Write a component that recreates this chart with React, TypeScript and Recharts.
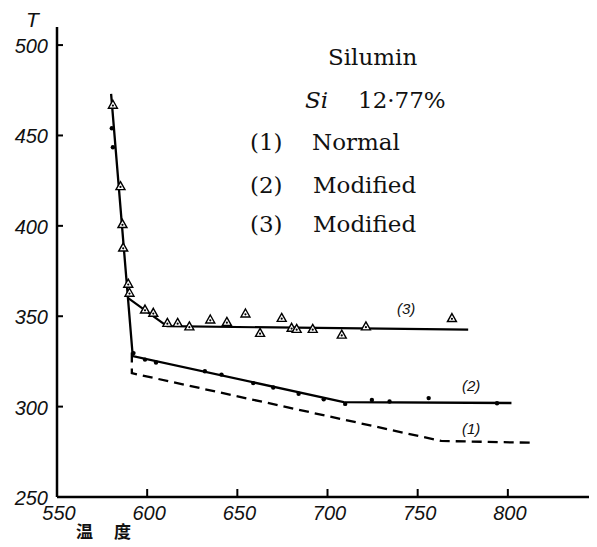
import React from 'react';
import { ComposedChart, Line, Scatter, XAxis, YAxis } from 'recharts';

// temperature (x) vs T (y)
const xTicks = [550, 600, 650, 700, 750, 800];
const yTicks = [250, 300, 350, 400, 450, 500];

// (2) Modified, solid line incl. the steep part
const line2 = [
  { x: 580, y: 473 },
  { x: 592, y: 328 },
  { x: 709, y: 302.5 },
  { x: 802, y: 302 },
];

// (3) Modified, branches off the steep line
const line3 = [
  { x: 589.5, y: 360 },
  { x: 611, y: 344.5 },
  { x: 778, y: 342.6 },
];

// (1) Normal, dashed
const line1 = [
  { x: 591.5, y: 330 },
  { x: 591.5, y: 318.5 },
  { x: 763, y: 281 },
  { x: 814, y: 280 },
];

const triPoints = [
  { x: 581, y: 467 },
  { x: 585.2, y: 422 },
  { x: 586.3, y: 401 },
  { x: 586.7, y: 388 },
  { x: 589.5, y: 368 },
  { x: 590.2, y: 363 },
  { x: 598.8, y: 353.7 },
  { x: 603.4, y: 351.9 },
  { x: 611.2, y: 346.3 },
  { x: 616.9, y: 346.3 },
  { x: 623.4, y: 344.4 },
  { x: 635, y: 348.2 },
  { x: 644.2, y: 346.9 },
  { x: 654.5, y: 351.5 },
  { x: 662.6, y: 340.8 },
  { x: 674.6, y: 349.1 },
  { x: 680.1, y: 343.6 },
  { x: 682.9, y: 343 },
  { x: 691.8, y: 343 },
  { x: 707.9, y: 339.8 },
  { x: 721.3, y: 344.4 },
  { x: 769, y: 349 },
];

const dotPoints = [
  { x: 580.4, y: 454 },
  { x: 581, y: 443.5 },
  { x: 592.4, y: 329.6 },
  { x: 598.8, y: 326 },
  { x: 604.9, y: 324.4 },
  { x: 632, y: 319.6 },
  { x: 641.2, y: 317.7 },
  { x: 658.8, y: 313 },
  { x: 669.9, y: 310.6 },
  { x: 684, y: 307.1 },
  { x: 697.9, y: 304.1 },
  { x: 709.8, y: 301.5 },
  { x: 724.6, y: 303.7 },
  { x: 734.4, y: 302.8 },
  { x: 756.1, y: 304.7 },
  { x: 794, y: 301.9 },
];

const W = 589;
const H = 539;
const AX_X = 49; // y axis position in svg
const AX_Y = 489; // x axis position in svg

const tickFont = 'Liberation Sans, Arial, sans-serif';
const serif = 'DejaVu Serif, Liberation Serif, serif';
const italic = { fontStyle: 'italic' as const };

const YTick = (props: any) => {
  const { y, payload } = props;
  return (
    <g>
      <line x1={AX_X} x2={AX_X + 6} y1={y} y2={y} stroke="#000" strokeWidth={2} />
      <text x={AX_X - 9} y={y + 8} textAnchor="end" style={italic} fontSize={20} fontFamily={tickFont} fill="#111">
        {payload.value}
      </text>
    </g>
  );
};

const XTick = (props: any) => {
  const { x, payload } = props;
  return (
    <g>
      {payload.value !== 550 && (
        <line x1={x} x2={x} y1={AX_Y} y2={AX_Y - 8} stroke="#000" strokeWidth={2} />
      )}
      <text x={x + 2} y={AX_Y + 23} textAnchor="middle" style={italic} fontSize={20} fontFamily={tickFont} fill="#111">
        {payload.value}
      </text>
    </g>
  );
};

const Triangle = (props: any) => {
  const { cx, cy } = props;
  if (cx == null || cy == null) return null;
  return (
    <g>
      <polygon
        points={`${cx},${cy - 4.5} ${cx + 4.5},${cy + 3.5} ${cx - 4.5},${cy + 3.5}`}
        fill="#fff"
        stroke="#000"
        strokeWidth={1.4}
      />
      <circle cx={cx} cy={cy + 0.8} r={1.1} fill="#000" />
    </g>
  );
};

const Dot = (props: any) => {
  const { cx, cy } = props;
  if (cx == null || cy == null) return null;
  return <circle cx={cx} cy={cy} r={2.2} fill="#000" />;
};

export default function App() {
  return (
    <div style={{ position: 'relative', width: W, height: H, background: '#fff' }}>
      <ComposedChart width={W} height={H} margin={{ top: 19, right: 8, bottom: 20, left: 0 }}>
        <XAxis
          type="number"
          dataKey="x"
          domain={[550, 845]}
          ticks={xTicks}
          allowDataOverflow
          height={30}
          axisLine={{ stroke: '#000', strokeWidth: 2.5 }}
          tickLine={false}
          tick={<XTick />}
          interval={0}
        />
        <YAxis
          type="number"
          dataKey="y"
          domain={[250, 510]}
          ticks={yTicks}
          allowDataOverflow
          width={49}
          axisLine={{ stroke: '#000', strokeWidth: 2.5 }}
          tickLine={false}
          tick={<YTick />}
          interval={0}
        />
        <Line data={line2} dataKey="y" type="linear" stroke="#000" strokeWidth={2.3} dot={false} isAnimationActive={false} />
        <Line data={line3} dataKey="y" type="linear" stroke="#000" strokeWidth={2.1} dot={false} isAnimationActive={false} />
        <Line
          data={line1}
          dataKey="y"
          type="linear"
          stroke="#000"
          strokeWidth={2.3}
          strokeDasharray="10 6"
          dot={false}
          isAnimationActive={false}
        />
        <Scatter data={dotPoints} shape={<Dot />} isAnimationActive={false} />
        <Scatter data={triPoints} shape={<Triangle />} isAnimationActive={false} />
      </ComposedChart>
      <svg
        width={W}
        height={H}
        style={{ position: 'absolute', left: 0, top: 0, pointerEvents: 'none' }}
      >
        <text x={18} y={19} fontSize={21} style={italic} fontFamily={tickFont} fill="#111">T</text>
        <g fontFamily={serif} fontSize={23} fill="#111">
          <text x={320} y={57}>Silumin</text>
          <text x={297} y={100} style={italic}>Si</text>
          <text x={350} y={100}>12·77%</text>
          <text x={242} y={142}>(1)</text>
          <text x={304} y={142}>Normal</text>
          <text x={242} y={185}>(2)</text>
          <text x={305} y={185}>Modified</text>
          <text x={242} y={224}>(3)</text>
          <text x={305} y={224}>Modified</text>
        </g>
        <g fontFamily={tickFont} fontSize={15} style={italic} fill="#111">
          <text x={389} y={306}>(3)</text>
          <text x={454} y={383}>(2)</text>
          <text x={454} y={426}>(1)</text>
        </g>
        <text y={530} fontSize={17} fontWeight="bold" fontFamily="Noto Sans CJK SC, sans-serif" fill="#111">
          <tspan x={68}>温</tspan>
          <tspan x={106}>度</tspan>
        </text>
      </svg>
    </div>
  );
}
